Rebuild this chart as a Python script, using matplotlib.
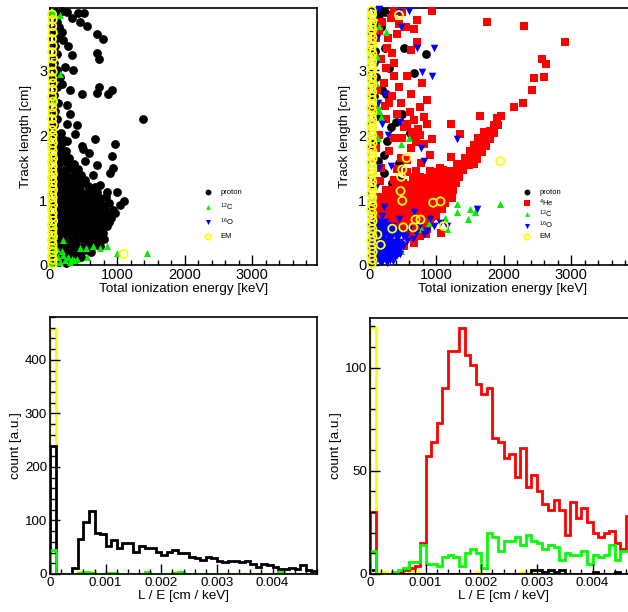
import numpy as np
import matplotlib.pyplot as plt
from matplotlib.ticker import MultipleLocator, FuncFormatter

plt.rcParams['font.family'] = ['Liberation Sans', 'DejaVu Sans']
plt.rcParams['mathtext.default'] = 'regular'

# ---------------- scatter data: (total ionization energy [keV], track length [cm]) ----------------
# left sample
proton_l = [
    (40, .04), (130, .05), (230, .03), (330, .06),
    (70, .13), (170, .12), (270, .14), (370, .12), (460, .13),
    (50, .22), (150, .21), (250, .23), (350, .22), (450, .21), (540, .23), (610, .20),
    (90, .31), (190, .30), (290, .32), (390, .31), (490, .30), (580, .32), (680, .31), (740, .30),
    (60, .40), (150, .41), (250, .39), (350, .40), (450, .41), (540, .39), (640, .40), (720, .42), (800, .40),
    (110, .49), (210, .50), (310, .48), (410, .49), (500, .50), (600, .49), (700, .48), (780, .50),
    (60, .58), (160, .57), (260, .59), (360, .58), (460, .57), (560, .59), (650, .58), (740, .57), (840, .60),
    (110, .67), (210, .68), (310, .66), (410, .67), (510, .68), (610, .66), (700, .67), (800, .68), (880, .66),
    (70, .76), (170, .75), (270, .77), (370, .76), (470, .75), (570, .77), (660, .76), (760, .75), (850, .78),
    (120, .85), (220, .86), (320, .84), (420, .85), (520, .86), (620, .84), (720, .85), (820, .86), (930, .84),
    (80, .94), (180, .93), (280, .95), (380, .94), (480, .93), (580, .95), (680, .94), (780, .93), (870, .95),
    (130, 1.03), (230, 1.04), (330, 1.02), (430, 1.03), (530, 1.04), (640, 1.02), (740, 1.03), (830, 1.05),
    (90, 1.12), (190, 1.11), (290, 1.13), (390, 1.12), (490, 1.11), (600, 1.13), (700, 1.12),
    (140, 1.21), (240, 1.22), (350, 1.20), (450, 1.21), (560, 1.22), (660, 1.20),
    (90, 1.30), (190, 1.31), (300, 1.29), (400, 1.30), (520, 1.31),
    (140, 1.39), (240, 1.40), (350, 1.38), (460, 1.39),
    (90, 1.48), (190, 1.47), (300, 1.49), (420, 1.48),
    (130, 1.57), (240, 1.58), (350, 1.56), (90, 1.66), (190, 1.67), (280, 1.65),
    (130, 1.75), (230, 1.76), (80, 1.84), (170, 1.85), (120, 1.93), (210, 1.92),
    (80, 2.02), (160, 2.03), (60, 2.15), (110, 2.25), (70, 2.38), (120, 2.50),
    (60, 2.62), (100, 2.75), (70, 2.88), (110, 3.00), (60, 3.12), (100, 3.25),
    (70, 3.38), (110, 3.50), (60, 3.62), (100, 3.75), (70, 3.90),
    (173, 3.92), (248, 3.90), (420, 3.88), (505, 3.88), (322, 3.80), (445, 3.74),
    (554, 3.68), (693, 3.56), (782, 3.48), (140, 3.66), (173, 3.59), (198, 3.46),
    (272, 3.38), (322, 3.23), (223, 3.05), (347, 3.00), (150, 2.90), (173, 2.79),
    (297, 2.69), (470, 2.64), (693, 2.65), (733, 2.74), (866, 2.63), (916, 2.69),
    (693, 3.26), (733, 3.17), (1376, 2.25), (248, 2.46), (297, 2.32), (396, 2.15),
    (248, 2.17), (371, 2.02), (470, 1.83), (584, 1.73), (668, 1.94), (495, 1.78),
    (520, 1.60), (693, 1.54), (916, 1.68), (965, 1.86), (940, 1.49), (891, 1.41),
    (248, 1.91), (223, 1.70), (297, 1.54), (396, 1.41), (297, 1.31), (198, 1.23),
    (495, 1.28), (643, 1.39), (742, 1.23), (841, 1.13), (990, 1.13), (1099, 0.99),
    (1040, 0.92), (960, 0.80), (900, 0.72),
]
c12_l = [
    (20, .03), (80, .06), (150, .04), (220, .08), (290, .05), (360, .07), (120, .12),
    (200, .15), (270, .13), (50, .18), (330, .10), (400, .09), (180, .22), (100, .25),
    (30, .30), (60, .45), (40, .60), (190, .38), (445, .26), (535, .26), (554, .12),
    (643, .29), (742, .26), (851, .29), (1000, .19), (1435, .19), (25, 3.92),
    (148, 3.85), (148, 2.95), (60, 2.56),
]
o16_l = []
em_l = [
    (35, .02), (42, .08), (30, .14), (45, .20), (32, .26), (40, .32), (28, .38), (44, .44),
    (34, .50), (40, .56), (30, .62), (46, .68), (35, .74), (40, .80), (29, .86), (44, .92),
    (34, .98), (40, 1.04), (30, 1.10), (46, 1.16), (35, 1.22), (40, 1.28), (29, 1.34),
    (44, 1.40), (34, 1.46), (40, 1.52), (30, 1.58), (46, 1.64), (35, 1.70), (40, 1.76),
    (29, 1.82), (44, 1.88), (34, 1.94), (40, 2.00), (32, 2.08), (42, 2.16), (30, 2.25),
    (40, 2.34), (34, 2.43), (44, 2.52), (30, 2.60), (38, 2.70), (42, 2.80), (32, 2.88),
    (40, 2.98), (30, 3.08), (44, 3.18), (34, 3.28), (40, 3.38), (30, 3.48), (42, 3.58),
    (34, 3.68), (40, 3.78), (32, 3.86), (1089, 0.17),
]

# right sample
proton_r = [
    (173, 3.92), (237, 3.90), (148, 3.85), (173, 3.66), (232, 3.34), (518, 3.34),
    (665, 2.96), (838, 3.25), (296, 3.04), (197, 2.70), (247, 2.64), (493, 2.33),
    (320, 2.12), (395, 2.20), (606, 2.04), (271, 1.91), (222, 1.70), (444, 1.57),
    (222, 1.41), (345, 1.26), (419, 1.31), (271, 1.13), (173, 0.92), (493, 1.28),
    (100, 3.70), (90, 3.30), (110, 2.90), (80, 2.60), (120, 2.30), (90, 1.90),
    (130, 1.60), (100, 1.30), (60, 0.90),
]
he4_r = [
    (560, .45), (660, .46), (760, .44), (850, .47),
    (150, .55), (250, .56), (350, .54), (450, .55), (560, .56), (660, .54), (760, .55), (860, .56),
    (100, .65), (200, .66), (300, .64), (400, .65), (500, .66), (600, .64), (700, .65), (800, .66), (900, .64),
    (120, .75), (220, .76), (320, .74), (420, .75), (520, .76), (620, .74), (720, .75), (820, .76),
    (920, .74), (990, .76),
    (100, .85), (200, .86), (300, .84), (400, .85), (500, .86), (600, .84), (700, .85), (800, .86),
    (900, .84), (1000, .85), (1080, .87),
    (130, .95), (230, .96), (330, .94), (430, .95), (530, .96), (630, .94), (730, .95), (830, .96),
    (930, .94), (1030, .95), (1130, .96),
    (160, 1.05), (260, 1.06), (360, 1.04), (460, 1.05), (560, 1.06), (660, 1.04), (760, 1.05),
    (860, 1.06), (960, 1.04), (1060, 1.05), (1160, 1.06), (1230, 1.04),
    (250, 1.15), (350, 1.16), (450, 1.14), (550, 1.15), (650, 1.16), (750, 1.14), (850, 1.15),
    (950, 1.16), (1050, 1.14), (1150, 1.15), (1250, 1.16),
    (400, 1.25), (500, 1.26), (600, 1.24), (700, 1.25), (800, 1.26), (900, 1.24), (1000, 1.25),
    (1100, 1.26), (1200, 1.24), (1290, 1.26),
    (650, 1.35), (750, 1.36), (850, 1.34), (950, 1.35), (1050, 1.36), (1150, 1.34), (1250, 1.35),
    (1340, 1.36),
    (900, 1.45), (1000, 1.44), (1100, 1.46), (1200, 1.45), (1300, 1.44), (1400, 1.46),
    (1300, 1.55), (1400, 1.56), (1480, 1.54), (1550, 1.55),
    (1420, 1.65), (1520, 1.66), (1600, 1.64), (1500, 1.75), (1600, 1.76), (1680, 1.74),
    (1560, 1.85), (1650, 1.86), (1730, 1.84), (1620, 1.95), (1720, 1.96), (1790, 1.94),
    (1700, 2.05), (1790, 2.06), (1850, 2.04), (1850, 2.15), (1920, 2.16), (1900, 2.26),
    (1960, 2.30),
    (2145, 2.43), (2290, 2.49), (2415, 2.70), (2440, 2.88), (2590, 2.90), (2563, 3.17),
    (2620, 3.09), (2900, 3.43), (1750, 3.74), (2300, 3.69), (937, 3.92), (1650, 2.30),
    (1355, 2.02), (1220, 2.18), (1210, 1.66), (1455, 1.60), (1070, 0.50),
    (370, 3.92), (493, 3.90), (330, 3.81), (444, 3.72), (665, 3.64), (715, 3.77),
    (542, 3.66), (409, 3.56), (715, 3.43), (616, 3.32), (345, 3.27), (173, 3.17),
    (247, 3.04), (370, 2.91), (444, 2.75), (370, 3.12), (567, 2.91), (616, 2.64),
    (863, 2.54), (606, 2.36), (754, 2.43), (665, 2.23), (863, 2.17), (813, 2.28),
    (518, 2.12), (419, 2.33), (370, 1.96), (493, 1.96), (665, 1.96), (813, 1.86),
    (937, 1.94), (296, 1.75), (616, 1.81), (468, 1.65), (764, 1.57), (173, 1.49),
    (567, 1.44), (370, 1.31), (616, 1.23), (320, 1.13), (197, 1.02), (518, 0.29),
    (665, 0.34), (419, 0.18), (100, 3.50), (150, 3.60), (120, 2.70), (90, 2.40),
    (150, 2.00), (110, 1.80), (160, 1.30), (250, 2.25), (300, 2.50), (220, 2.80),
    (280, 3.50), (200, 3.75), (560, 2.18), (720, 2.10), (480, 2.50), (640, 2.05),
    (700, 1.90), (760, 2.00), (900, 1.70), (1050, 1.50), (560, 1.62), (420, 1.48),
    (700, 1.45), (230, 2.45), (340, 2.60), (790, 2.80), (260, 3.35),
]
c12_r = [
    (1947, .94), (1306, .94), (1503, .86), (1464, .71), (1577, .81), (1306, .81),
    (1134, .73), (887, .65), (764, .55), (468, 1.86), (592, 1.96), (173, 2.28),
    (148, 2.38), (148, 3.69), (247, 3.59), (468, .21), (296, .29), (1159, .55),
    (120, 3.20), (100, 2.80), (140, 2.45), (130, 1.95), (90, .30), (150, .15), (60, .60),
]
o16_r = [
    (60, .04), (160, .05), (260, .03), (350, .06), (90, .12), (190, .11), (290, .13), (390, .12),
    (60, .20), (160, .21), (260, .19), (360, .20), (450, .22),
    (100, .28), (200, .29), (300, .27), (400, .28), (500, .29),
    (60, .36), (160, .35), (260, .37), (360, .36), (460, .35), (560, .37),
    (110, .44), (210, .45), (310, .43), (410, .44), (500, .45),
    (70, .52), (170, .51), (270, .53), (370, .52), (120, .60), (220, .61), (310, .59),
    (110, .08), (210, .08), (310, .08), (410, .16), (110, .16), (210, .16), (310, .16),
    (40, .12), (40, .28), (40, .44), (150, .24), (250, .24), (350, .24), (450, .30),
    (110, .32), (210, .32), (310, .32), (410, .40), (110, .40), (210, .40), (310, .40),
    (160, .48), (260, .48), (360, .48), (460, .50), (60, .56), (160, .56), (260, .57),
    (360, .60), (420, .56), (40, .64), (160, .66), (240, .67),
    (60, .08), (160, .09), (260, .10), (360, .09), (60, .16), (160, .15), (260, .16),
    (360, .15), (460, .17), (110, .24), (210, .23), (310, .22), (410, .23), (60, .32),
    (160, .31), (260, .33), (360, .32), (470, .33), (110, .36), (210, .37), (310, .36),
    (410, .36), (60, .48), (210, .49), (310, .49), (410, .48), (510, .47), (110, .52),
    (210, .54), (310, .55), (90, .60), (180, .62), (270, .62), (120, .67), (330, .56),
]
o16_r += [
    (592, 3.92), (444, 3.90), (468, 3.66), (715, 3.35), (961, 3.35), (789, 2.98),
    (937, 2.91), (232, 2.64), (197, 2.17), (458, 2.21), (281, 2.00), (764, 1.81),
    (1306, 1.94), (813, 1.60), (330, 1.52), (222, .89), (665, .81), (197, .76),
    (1602, .87), (444, .71), (912, .71), (813, .47), (1159, .60), (1060, .65),
    (760, .62), (960, .60), (600, .55), (700, .50), (860, .52), (550, .45), (650, .40),
    (120, 3.50), (100, 3.10), (130, 2.50), (150, 1.50), (100, 1.20), (80, 3.92), (150, 3.94),
]
em_r = [
    (40, .02), (50, .08), (34, .14), (54, .20), (38, .26), (48, .32), (32, .38), (52, .44),
    (40, .50), (48, .56), (34, .62), (54, .68), (40, .74), (48, .80), (32, .86), (52, .92),
    (40, .98), (48, 1.04), (34, 1.10), (54, 1.16), (40, 1.22), (48, 1.28), (32, 1.34),
    (52, 1.40), (40, 1.46), (48, 1.52), (34, 1.58), (54, 1.64), (40, 1.70), (48, 1.76),
    (32, 1.82), (52, 1.88), (40, 1.94), (48, 2.00), (36, 2.06), (50, 2.12), (34, 2.18),
    (48, 2.24), (40, 2.30), (52, 2.36), (34, 2.42), (46, 2.48), (50, 2.54), (36, 2.60),
    (48, 2.66), (34, 2.72), (52, 2.78), (40, 2.84), (48, 2.90), (34, 2.96), (50, 3.02),
    (40, 3.08), (48, 3.14), (36, 3.20), (50, 3.26), (34, 3.32), (46, 3.38), (40, 3.44),
    (52, 3.50), (34, 3.56), (48, 3.62), (40, 3.68), (50, 3.74), (36, 3.80), (46, 3.86),
    (40, 3.92),
    (1947, 1.60), (478, 1.36), (493, 1.47), (557, 1.65), (493, .99), (468, 1.14),
    (951, .96), (1060, .98), (345, .56), (508, .58), (656, .58), (764, .70), (690, .70),
    (1109, .60), (123, .47), (173, .31), (444, 3.85),
]

# ---------------- L/E histograms, 48 bins of 0.0001 cm/keV ----------------
bin_width = 0.0001
proton_hist_l = [240, 0, 0, 0, 12, 65, 97, 117, 77, 74, 52, 63, 48, 58, 58, 42, 52, 48, 48, 42,
                 35, 42, 45, 39, 39, 31, 29, 26, 31, 30, 25, 23, 24, 24, 23, 25, 19, 14, 19, 17,
                 13, 10, 10, 11, 10, 17, 8, 6]
c12_hist_l = [45, 0, 0, 0, 0, 2, 3, 2, 0, 0, 2, 2, 0, 0, 0, 0, 0, 3, 0, 0,
              0, 0, 2, 3, 0, 0, 0, 0, 0, 0, 0, 0, 0, 0, 0, 0, 0, 0, 0, 0,
              0, 3, 0, 0, 0, 0, 0, 0]
em_hist_l = [457, 0, 0, 0, 0, 3, 3, 3, 0, 0, 2, 2, 0, 0, 0, 0, 0, 3, 0, 0,
             0, 0, 3, 3, 0, 0, 0, 0, 0, 0, 0, 0, 0, 0, 0, 0, 0, 0, 0, 0,
             0, 3, 0, 0, 0, 0, 0, 0]

he4_hist_r = [30, 0, 0, 0, 0, 1, 2, 3, 4, 15, 57, 64, 73, 90, 108, 108, 119, 106, 101, 92,
              87, 90, 66, 64, 56, 58, 47, 61, 42, 48, 40, 34, 31, 36, 31, 19, 35, 27, 32, 25,
              20, 18, 20, 21, 15, 12, 28, 30]
c12_hist_r = [11, 0, 0, 0, 1, 2, 3, 6, 6, 14, 5, 5, 4, 8, 9, 8, 4, 10, 12, 10,
              3, 20, 18, 11, 16, 16, 18, 14, 19, 16, 15, 12, 14, 13, 7, 10, 9, 9, 11, 5,
              9, 8, 9, 14, 7, 11, 11, 6]
em_hist_r = [119, 1, 1, 0, 0, 0, 0, 2, 1, 0, 0, 0, 0, 0, 0, 0, 0, 0, 0, 1,
             0, 0, 0, 0, 0, 0, 0, 1, 1, 0, 0, 0, 0, 0, 0, 0, 0, 0, 0, 0,
             0, 0, 0, 0, 0, 0, 0, 0]
proton_hist_r = [2, 0, 0, 0, 0, 0, 0, 0, 0, 0, 0, 0, 0, 0, 0, 0, 0, 0, 0, 0,
                 0, 0, 0, 0, 0, 0, 0, 0, 0, 2, 2, 1, 2, 1, 2, 0, 0, 0, 0, 0,
                 1, 0, 0, 0, 1, 0, 0, 0]

# ROOT-like marker styles
STYLES = {
    'proton': dict(marker='o', s=40, color='black', linewidths=0),
    'he4': dict(marker='s', s=30, color='#ff0000', linewidths=0),
    'c12': dict(marker='^', s=26, color='#00ee00', linewidths=0),
    'o16': dict(marker='v', s=30, color='#0000ff', linewidths=0),
    'em': dict(marker='o', s=34, facecolors='none', edgecolors='#ffff00', linewidths=1.3),
}
LABELS = {'proton': 'proton', 'he4': '$^{4}$He', 'c12': '$^{12}$C', 'o16': '$^{16}$O', 'em': 'EM'}

fig = plt.figure(figsize=(6.28, 6.12), dpi=100)
W, H = 628.0, 612.0


def add_axes(left, top, right, bottom):
    return fig.add_axes([left / W, 1 - bottom / H, (right - left) / W, (bottom - top) / H])


def style_axes(ax, tick_size):
    for sp in ax.spines.values():
        sp.set_linewidth(1.2)
    ax.tick_params(which='both', direction='in', top=False, right=False, width=1.0,
                   labelsize=tick_size, pad=2)
    ax.tick_params(which='major', length=7)
    ax.tick_params(which='minor', length=3.5)


def scatter_panel(ax, series):
    for key, pts in series:
        if pts:
            xs, ys = zip(*pts)
            ax.scatter(xs, ys, clip_on=False, zorder=3, **STYLES[key])
    ax.set_xlim(0, 3960)
    ax.set_ylim(0, 3.96)
    ax.xaxis.set_major_locator(MultipleLocator(1000))
    ax.xaxis.set_minor_locator(MultipleLocator(200))
    ax.yaxis.set_major_locator(MultipleLocator(1))
    ax.yaxis.set_minor_locator(MultipleLocator(0.2))
    style_axes(ax, 10.5)
    ax.set_xlabel('Total ionization energy [keV]', fontsize=9.7, labelpad=1)
    ax.set_ylabel('Track length [cm]', fontsize=9.7, labelpad=5)

    # legend without frame
    ys = [0.284 - i * (0.175 / (len(series) - 1)) for i in range(len(series))]
    for (key, _), y in zip(series, ys):
        st = dict(STYLES[key])
        st['s'] = st['s'] * 0.45
        ax.scatter([0.592], [y], transform=ax.transAxes, clip_on=False, zorder=4, **st)
        ax.text(0.637, y, LABELS[key], transform=ax.transAxes, fontsize=5.5, va='center')


def hist_panel(ax, series, ymax, ymajor, yminor):
    edges = np.arange(len(series[0][1]) + 1) * bin_width
    colors = {'proton': 'black', 'he4': '#ff0000', 'c12': '#00ff00', 'em': '#ffff00'}
    for key, vals in series:
        ax.stairs(vals, edges, baseline=0, color=colors[key], linewidth=2.0)
    ax.set_xlim(0, 0.0048)
    ax.set_ylim(0, ymax)
    ax.xaxis.set_major_locator(MultipleLocator(0.001))
    ax.xaxis.set_minor_locator(MultipleLocator(0.0002))
    ax.xaxis.set_major_formatter(FuncFormatter(lambda v, p: '0' if abs(v) < 1e-9 else f'{v:.3f}'))
    ax.yaxis.set_major_locator(MultipleLocator(ymajor))
    ax.yaxis.set_minor_locator(MultipleLocator(yminor))
    style_axes(ax, 9.6)
    ax.set_xlabel('L / E [cm / keV]', fontsize=9.7, labelpad=1)
    ax.set_ylabel('count [a.u.]', fontsize=9.7, labelpad=2)


ax1 = add_axes(50, 8, 317, 265)
scatter_panel(ax1, [('proton', proton_l), ('c12', c12_l), ('o16', o16_l), ('em', em_l)])

ax2 = add_axes(369, 8, 636, 265)
scatter_panel(ax2, [('proton', proton_r), ('he4', he4_r), ('c12', c12_r), ('o16', o16_r), ('em', em_r)])

ax3 = add_axes(50, 317, 317, 574)
hist_panel(ax3, [('em', em_hist_l), ('proton', proton_hist_l), ('c12', c12_hist_l)], 480, 100, 20)

ax4 = add_axes(370, 318, 637, 574)
hist_panel(ax4, [('em', em_hist_r), ('proton', proton_hist_r), ('he4', he4_hist_r), ('c12', c12_hist_r)],
           124, 50, 10)

fig.savefig('out.png', dpi=100)
